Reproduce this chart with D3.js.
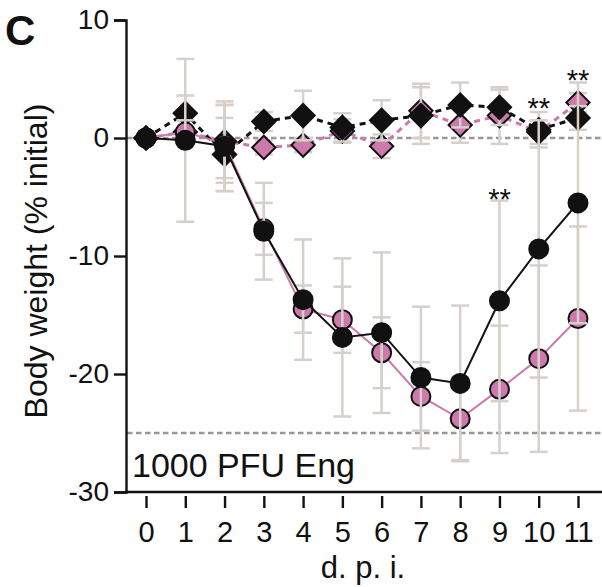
<!DOCTYPE html>
<html>
<head>
<meta charset="utf-8">
<script src="https://cdn.jsdelivr.net/npm/d3@7"></script>
<style>
  body { margin: 0; background: #fff; }
  svg text { font-family: "Liberation Sans", Arial, sans-serif; }
</style>
</head>
<body>
<div id="chart"></div>
<script>
// days post infection
var days = [0, 1, 2, 3, 4, 5, 6, 7, 8, 9, 10, 11];

// black circles, solid line
var blackCircle = [0, -0.2, -0.7, -7.9, -13.7, -16.9, -16.5, -20.3, -20.8, -13.8, -9.4, -5.5];
var blackCircleSd = [0, 6.9, 3.8, 4.1, 5.1, 6.7, 6.8, 6.0, 6.6, 8.5, 10.9, 10.2];

// pink circles, solid line
var pinkCircle = [0, 0.5, -0.5, -7.7, -14.5, -15.4, -18.2, -21.9, -23.8, -21.3, -18.7, -15.3];
var pinkCircleSd = [0, 1.0, 3.3, 2.2, 2.0, 2.8, 3.0, 2.9, 3.5, 5.4, 7.9, 7.8];

// black diamonds, dashed line
var blackDiamond = [0, 2.1, -1.4, 1.4, 1.9, 0.9, 1.5, 1.9, 2.8, 2.6, 0.7, 1.7];
var blackDiamondSd = [0, 1.5, 3.1, 0.8, 2.1, 1.2, 1.7, 2.4, 1.9, 1.5, 1.5, 1.0];

// pink diamonds, dashed line
var pinkDiamond = [0, 0.5, -0.3, -0.8, -0.6, 0.6, -0.7, 2.3, 1.1, 1.9, 0.5, 3.0];
var pinkDiamondSd = [0, 1.0, 3.1, 0.6, 0.6, 1.0, 1.0, 2.3, 1.5, 2.4, 1.0, 0.8];

// significance marks: day and the height of their baseline
var starDays = [9, 10, 11];
var starValues = [-6.0, 1.7, 4.1];

var yTicks = [10, 0, -10, -20, -30];
var refLines = [0, -25];

var pink = "#cc7aab";
var barColor = "#d5d0cc";

var width = 602, height = 587;

var x = d3.scaleLinear().domain([0, 11]).range([146, 578]);
var y = d3.scaleLinear().domain([-30, 10]).range([492, 20]);

var svg = d3.select("#chart").append("svg")
  .attr("width", width)
  .attr("height", height);

// reference lines
svg.selectAll(".ref").data(refLines).enter().append("line")
  .attr("x1", 127).attr("x2", 602)
  .attr("y1", d => y(d)).attr("y2", d => y(d))
  .attr("stroke", "#9c9796")
  .attr("stroke-width", 2.6)
  .attr("stroke-dasharray", "5.5,3.5");

function makeSeries(vals, sds) {
  return days.map((d, i) => ({day: d, v: vals[i], sd: sds[i]}));
}

var series = [
  {data: makeSeries(pinkDiamond, pinkDiamondSd), shape: "diamond", fill: pink, line: pink, dash: "6,5"},
  {data: makeSeries(blackDiamond, blackDiamondSd), shape: "diamond", fill: "#111", line: "#111", dash: "6,5"},
  {data: makeSeries(pinkCircle, pinkCircleSd), shape: "circle", fill: pink, line: pink, dash: null},
  {data: makeSeries(blackCircle, blackCircleSd), shape: "circle", fill: "#111", line: "#111", dash: null}
];

var line = d3.line()
  .x(d => x(d.day))
  .y(d => y(d.v));

var diamond = d3.symbol().type(d3.symbolSquare).size(272);

// each data set: error bars, then line, then markers
series.forEach(function(s) {
  var g = svg.append("g");
  var withBars = s.data.filter(d => d.sd > 0);
  g.selectAll(".v").data(withBars).enter().append("line")
    .attr("x1", d => x(d.day)).attr("x2", d => x(d.day))
    .attr("y1", d => y(d.v + d.sd)).attr("y2", d => y(d.v - d.sd))
    .attr("stroke", barColor).attr("stroke-width", 2.5);
  [1, -1].forEach(function(sign) {
    g.selectAll(".c").data(withBars).enter().append("line")
      .attr("x1", d => x(d.day) - 9).attr("x2", d => x(d.day) + 9)
      .attr("y1", d => y(d.v + sign * d.sd)).attr("y2", d => y(d.v + sign * d.sd))
      .attr("stroke", barColor).attr("stroke-width", 2.5);
  });

  g.append("path")
    .datum(s.data)
    .attr("fill", "none")
    .attr("stroke", s.line)
    .attr("stroke-width", s.dash ? 3 : 2)
    .attr("stroke-dasharray", s.dash)
    .attr("d", line);

  if (s.shape === "circle") {
    g.selectAll("circle").data(s.data).enter().append("circle")
      .attr("cx", d => x(d.day)).attr("cy", d => y(d.v))
      .attr("r", 9.5)
      .attr("fill", s.fill)
      .attr("stroke", "#111").attr("stroke-width", 2);
  } else {
    g.selectAll(".m").data(s.data).enter().append("path")
      .attr("d", diamond)
      .attr("transform", d => "translate(" + x(d.day) + "," + y(d.v) + ") rotate(45)")
      .attr("fill", s.fill)
      .attr("stroke", "#111").attr("stroke-width", 2);
  }
});

// significance stars
svg.selectAll(".star").data(starDays).enter().append("text")
  .attr("x", d => x(d))
  .attr("y", (d, i) => y(starValues[i]))
  .attr("text-anchor", "middle")
  .attr("font-size", 29)
  .attr("fill", "#111")
  .text("**");

// y axis
var yAxis = svg.append("g")
  .attr("transform", "translate(126,0)")
  .call(d3.axisLeft(y).tickValues(yTicks).tickFormat(d => String(d)).tickSize(12).tickPadding(5));
yAxis.select(".domain").attr("stroke", "#111").attr("stroke-width", 2.4);
yAxis.selectAll(".tick line").attr("stroke", "#111").attr("stroke-width", 2.4);
yAxis.selectAll("text").attr("font-size", 28).attr("fill", "#111")
  .style("font-family", "Liberation Sans, Arial, sans-serif");

// x axis, ticks hang just below the line
var xAxis = svg.append("g")
  .attr("transform", "translate(0,492)")
  .call(d3.axisBottom(x).tickValues(days).tickSizeOuter(0));
xAxis.select(".domain").attr("d", "M125,0H602").attr("stroke", "#111").attr("stroke-width", 2.4);
xAxis.selectAll(".tick line").attr("y1", 4).attr("y2", 16)
  .attr("stroke", "#111").attr("stroke-width", 2.4);
xAxis.selectAll("text").attr("y", 50).attr("dy", 0)
  .attr("font-size", 29).attr("fill", "#111")
  .style("font-family", "Liberation Sans, Arial, sans-serif");

// labels
svg.append("text")
  .attr("x", 363).attr("y", 578)
  .attr("text-anchor", "middle")
  .attr("font-size", 31).attr("fill", "#111")
  .text("d. p. i.");

svg.append("text")
  .attr("transform", "translate(47,261) rotate(-90)")
  .attr("text-anchor", "middle")
  .attr("font-size", 32).attr("fill", "#111")
  .text("Body weight (% initial)");

svg.append("text")
  .attr("x", 132).attr("y", 477)
  .attr("font-size", 34).attr("fill", "#111")
  .text("1000 PFU Eng");

svg.append("text")
  .attr("x", 5).attr("y", 45)
  .attr("font-size", 42).attr("font-weight", "bold").attr("fill", "#111")
  .text("C");
</script>
</body>
</html>
